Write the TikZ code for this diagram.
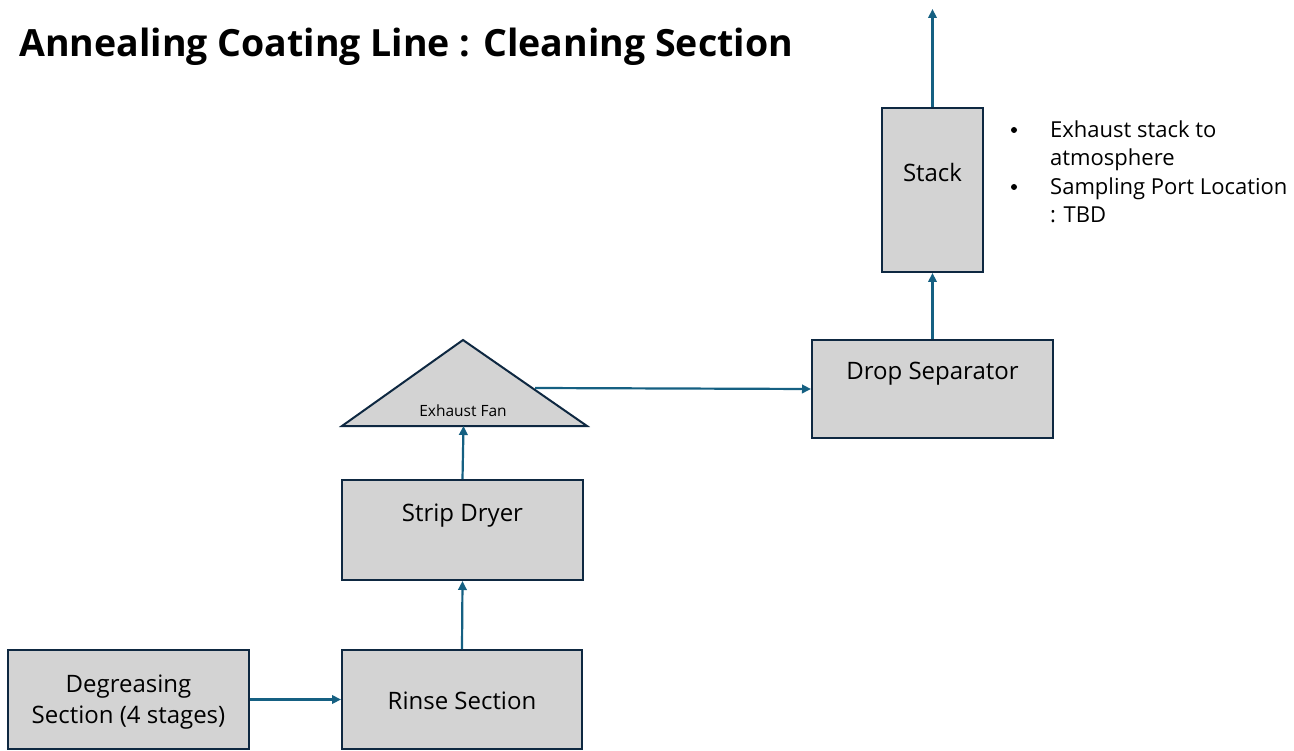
\documentclass[tikz,border=0pt]{standalone}
\usepackage{fontspec}
\setmainfont{Open Sans}
\usetikzlibrary{arrows.meta}
\definecolor{boxfill}{HTML}{D3D3D3}
\definecolor{boxline}{HTML}{0E2841}
\definecolor{flow}{HTML}{156082}
\tikzset{
  unit/.style={draw=boxline, fill=boxfill, line width=2pt, inner sep=0pt},
  lbl/.style={font=\fontsize{24}{31}\selectfont, text=black, align=center},
  flowline/.style={draw=flow, line width=2.2pt, -{Triangle[length=9pt,width=8.5pt]}},
  dot/.style={circle, fill=black, inner sep=0pt, minimum size=6pt},
}
\begin{document}
\begin{tikzpicture}[x=1pt,y=-1pt]
\useasboundingbox (0,0) rectangle (1294,751);

% title
\node[anchor=west, inner sep=0pt, font=\bfseries\fontsize{37.5}{44}\selectfont] (title) at (19,47) {Annealing Coating Line : Cleaning Section};

% process units
\node[unit, minimum width=241pt, minimum height=99pt] (degrease) at (128.5,699.5) {};
\node[lbl] (degreaseT) at (128.5,702) {Degreasing\\Section (4 stages)};
\node[unit, minimum width=240pt, minimum height=99pt] (rinse) at (462,699.5) {};
\node[lbl] (rinseT) at (462,701) {Rinse Section};
\node[unit, minimum width=241pt, minimum height=100pt] (dryer) at (462.5,530) {};
\node[lbl] (dryerT) at (462.5,516) {Strip Dryer};
\node[unit, minimum width=241pt, minimum height=98pt] (sep) at (932.5,389) {};
\node[lbl] (sepT) at (932.5,374) {Drop Separator};
\node[unit, minimum width=101pt, minimum height=164pt] (stack) at (932.5,190) {};
\node[lbl] (stackT) at (932.5,173) {Stack};

% exhaust fan (triangle)
\coordinate (fanL) at (342,426);
\coordinate (fanR) at (587,426);
\coordinate (fanTop) at (463,340);
\coordinate (fanBase) at (463.5,426);
\coordinate (fanOut) at (535,388);
\draw[boxline, fill=boxfill, line width=2pt, line join=miter] (fanL) -- (fanTop) -- (fanR) -- cycle;
\node[font=\fontsize{15.5}{18}\selectfont] (fanT) at (463,411) {Exhaust Fan};

% flow connections
\coordinate (vent) at (932.5,9);
\draw[flowline] (degrease.east) -- (rinse.west);
\draw[flowline] (rinse.north) -- (dryer.south);
\draw[flowline] (dryer.north) -- (fanBase);
\draw[flowline] (fanOut) -- (sep.west);
\draw[flowline] (sep.north) -- (stack.south);
\draw[flowline] (stack.north) -- (vent);

% notes
\node[dot] (b1) at (1014,130) {};
\node[dot] (b2) at (1014,187) {};
\begin{scope}[every node/.style={anchor=base west, inner sep=0pt, font=\fontsize{22}{26}\selectfont}]
\node (n1) at (1050,138) {Exhaust stack to};
\node (n1b) at (1050,166) {atmosphere};
\node (n2) at (1050,195) {Sampling Port Location};
\node (n2b) at (1050,223) {: TBD};
\end{scope}
\end{tikzpicture}
\end{document}
